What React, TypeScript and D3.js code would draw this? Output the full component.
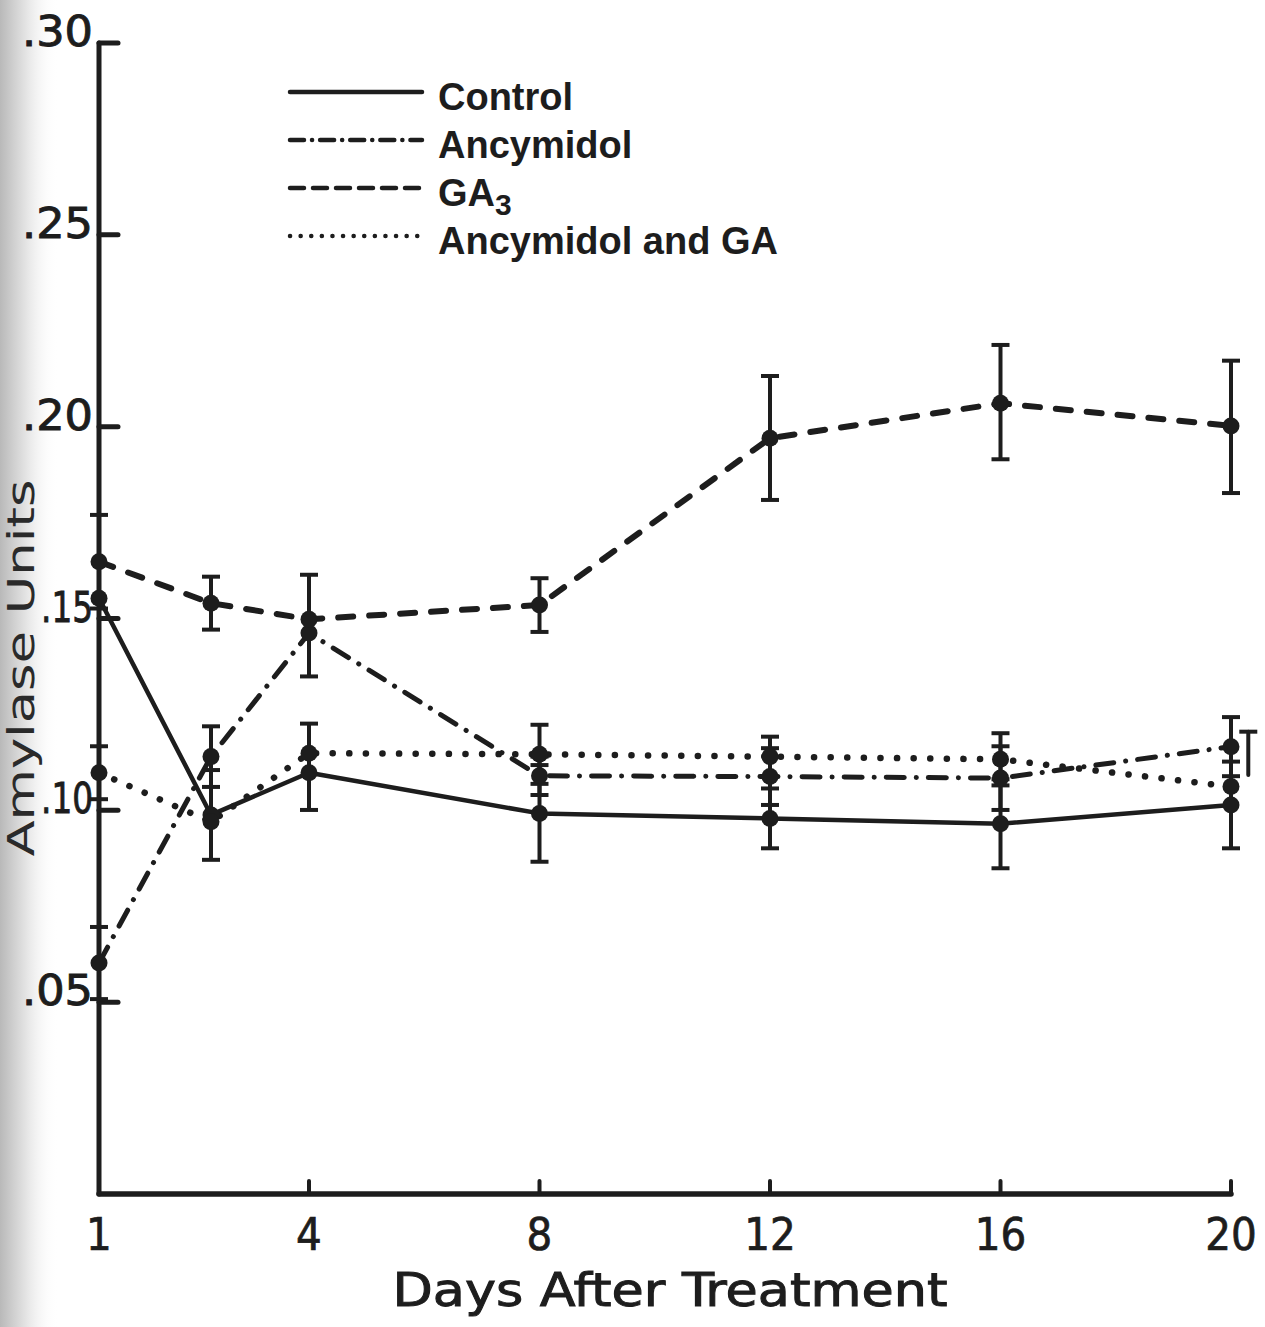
import React from 'react';
import * as d3 from 'd3';

// sampling days (the second sample sits between day 1 and day 4)
const days = [1, 2.6, 4, 8, 12, 16, 20];
const tickDays = [1, 4, 8, 12, 16, 20];
const yTicks = [0.05, 0.1, 0.15, 0.2, 0.25, 0.3];

const controlValues = [0.1553, 0.0988, 0.1098, 0.0992, 0.0979, 0.0965, 0.1014];
const ancymidolValues = [0.0602, 0.114, 0.1462, 0.109, 0.1088, 0.1084, 0.1166];
const ga3Values = [0.1648, 0.154, 0.1498, 0.1535, 0.197, 0.2061, 0.2002];
const comboValues = [0.1098, 0.097, 0.1149, 0.1146, 0.114, 0.1133, 0.1062];

type Err = [number, number] | null;
const controlErrors: Err[] = [null, [0.0871, 0.1105], [0.1001, 0.1226], [0.0866, 0.1118], [0.0901, 0.1057], [0.0849, 0.1081], [0.0901, 0.1127]];
const ancymidolErrors: Err[] = [[0.0508, 0.0696], [0.1061, 0.1219], null, [0.104, 0.114], [0.1014, 0.1162], [0.1001, 0.1167], [0.1089, 0.1243]];
const ga3Errors: Err[] = [[0.1526, 0.177], [0.1471, 0.1609], [0.1349, 0.1614], [0.1465, 0.1605], [0.1809, 0.2132], [0.1915, 0.2213], [0.1827, 0.2172]];
const comboErrors: Err[] = [[0.1029, 0.1167], null, null, [0.1069, 0.1223], [0.1088, 0.1192], [0.1065, 0.1201], null];
// the last combo bar was drawn a little to the right of its point
const comboStrayBar = { day: 20.3, lo: 0.1092, hi: 0.1205 };

const INK = '#1d1d1d';

const series = [
  { label: 'Control', values: controlValues, errors: controlErrors, dash: '', width: 4.5, legendDash: '' },
  { label: 'Ancymidol', values: ancymidolValues, errors: ancymidolErrors, dash: '18 12 0.1 12', width: 5, legendDash: '14 8 0.1 8' },
  { label: 'GA', sub: '3', values: ga3Values, errors: ga3Errors, dash: '15 16', width: 6, legendDash: '14 9' },
  { label: 'Ancymidol and GA', values: comboValues, errors: comboErrors, dash: '0.1 16.5', width: 6.5, legendDash: '0.1 10.5' },
];

// lettering-guide digits: the "1" is a bare stroke, so labels with it are narrower
const labelWidth = (s: string) =>
  s.split('').reduce((w, c) => w + (c === '.' ? 13 : c === '1' ? 10 : 29), 0);

export default function App() {
  const width = 1265;
  const height = 1327;

  const x = d3.scaleLinear().domain([1, 4, 20]).range([99, 309, 1231]);
  const y = d3.scaleLinear().domain([0, 0.3]).range([1194, 43]);

  const line = d3.line<number>()
    .x((d, i) => x(days[i]))
    .y(d => y(d));

  const fmt = (v: number) => d3.format('.2f')(v).replace(/^0/, '');
  const capW = 9;

  const x0 = x(1);
  const y0 = y(0);
  const xEnd = x(20);

  return (
    <svg width={width} height={height} style={{ position: 'absolute', left: 0, top: 0, background: '#fff' }}>
      <defs>
        <linearGradient id="shade" x1="0" x2="1" y1="0" y2="0">
          <stop offset="0" stopColor="#b9b9b9" />
          <stop offset="0.45" stopColor="#e4e4e4" />
          <stop offset="1" stopColor="#ffffff" stopOpacity="0" />
        </linearGradient>
      </defs>
      <rect x={0} y={0} width={width} height={height} fill="#fff" />
      <rect x={0} y={0} width={58} height={height} fill="url(#shade)" />

      {/* Axes */}
      <g stroke={INK} strokeLinecap="round" fill="none">
        <line x1={x0} y1={y(0.3)} x2={x0} y2={y0} strokeWidth={5} />
        <line x1={x0} y1={y0} x2={xEnd} y2={y0} strokeWidth={5.5} />
        {yTicks.map(t => (
          <line key={t} x1={x0} x2={x0 + 19} y1={y(t)} y2={y(t)} strokeWidth={5} />
        ))}
        {tickDays.slice(1).map(t => (
          <line key={t} x1={x(t)} x2={x(t)} y1={y0} y2={y0 - 13} strokeWidth={4} />
        ))}
      </g>

      {/* Y tick labels */}
      <g fontFamily="DejaVu Sans, sans-serif" fontSize={42} fill={INK} stroke={INK} strokeWidth={0.9} textAnchor="end">
        {yTicks.map(t => (
          <text key={t} x={93} y={y(t) + 3} textLength={labelWidth(fmt(t))} lengthAdjust="spacingAndGlyphs">{fmt(t)}</text>
        ))}
      </g>

      {/* X tick labels */}
      <g fontFamily="DejaVu Sans Condensed, DejaVu Sans, sans-serif" fontSize={45} fill={INK} stroke={INK} strokeWidth={0.7} textAnchor="middle">
        {tickDays.map(t => (
          <text key={t} x={x(t)} y={1250}>{t}</text>
        ))}
      </g>

      <text x={670} y={1306} textAnchor="middle" fontFamily="DejaVu Sans Condensed, DejaVu Sans, sans-serif"
        fontSize={46} fill={INK} stroke={INK} strokeWidth={0.9} textLength={555} lengthAdjust="spacingAndGlyphs">Days After Treatment</text>

      <text transform={`translate(34, ${668}) rotate(-90)`} textAnchor="middle"
        fontFamily="DejaVu Sans, sans-serif" fontSize={38} fill="#2a2a2a"
        textLength={377} lengthAdjust="spacingAndGlyphs">Amylase Units</text>

      {/* Series lines */}
      {series.map(s => (
        <path key={s.label} d={line(s.values) || ''} fill="none" stroke={INK}
          strokeWidth={s.width} strokeDasharray={s.dash || undefined}
          strokeLinecap="round" strokeLinejoin="round" />
      ))}

      {/* Error bars */}
      <g stroke={INK} fill="none">
        {series.map(s => s.errors.map((e, i) => {
          if (!e) return null;
          const cx = x(days[i]);
          return (
            <g key={s.label + i}>
              <line x1={cx} x2={cx} y1={y(e[0])} y2={y(e[1])} strokeWidth={4} />
              <line x1={cx - capW} x2={cx + capW} y1={y(e[0])} y2={y(e[0])} strokeWidth={4} />
              <line x1={cx - capW} x2={cx + capW} y1={y(e[1])} y2={y(e[1])} strokeWidth={4} />
            </g>
          );
        }))}
        <line x1={x(comboStrayBar.day)} x2={x(comboStrayBar.day)} y1={y(comboStrayBar.lo)} y2={y(comboStrayBar.hi)}
          strokeWidth={4} strokeLinecap="round" />
        <line x1={x(comboStrayBar.day) - capW} x2={x(comboStrayBar.day) + capW}
          y1={y(comboStrayBar.hi)} y2={y(comboStrayBar.hi)} strokeWidth={4} />
      </g>

      {/* Points */}
      <g fill={INK}>
        {series.map(s => s.values.map((v, i) => (
          <circle key={s.label + i} cx={x(days[i])} cy={y(v)} r={8.5} />
        )))}
      </g>

      {/* Legend */}
      <g fontFamily="Liberation Sans, Arial, sans-serif" fontWeight="bold" fontSize={38} fill={INK}>
        {series.map((s, i) => {
          const ly = 92 + i * 48;
          return (
            <g key={s.label}>
              <line x1={290} x2={422} y1={ly} y2={ly} stroke={INK} strokeWidth={4.5}
                strokeDasharray={s.legendDash || undefined} strokeLinecap="round" />
              <text x={438} y={ly + 18}>
                {s.label}
                {s.sub ? <tspan dy={9} fontSize={30}>{s.sub}</tspan> : null}
              </text>
            </g>
          );
        })}
      </g>
    </svg>
  );
}
